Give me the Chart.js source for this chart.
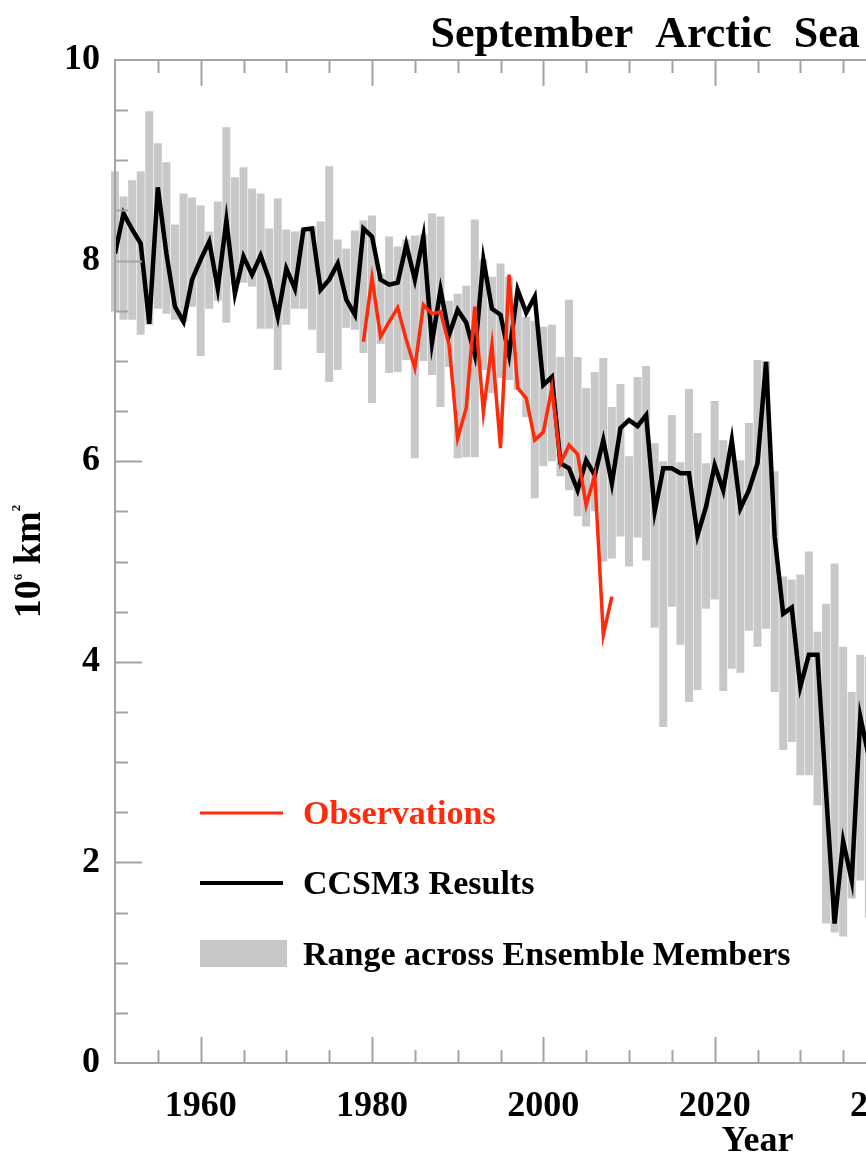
<!DOCTYPE html>
<html>
<head>
<meta charset="utf-8">
<title>September Arctic Sea Ice Extent</title>
<script src="https://cdn.jsdelivr.net/npm/chart.js@4.4.0/dist/chart.umd.min.js"></script>
<style>
    html, body { margin: 0; padding: 0; background: #ffffff; overflow: hidden; }
    #wrap { width: 866px; height: 1155px; overflow: hidden; }
    canvas { display: block; }
</style>
</head>
<body>
<div id="wrap"><canvas id="iceChart" width="1515" height="1155"></canvas></div>
<script>
// Data (10^6 km^2); the figure is cut at about 2038

// Model years (CCSM3 run and ensemble range)
const modelYears = [
    1950, 1951, 1952, 1953, 1954, 1955, 1956, 1957, 1958, 1959,
    1960, 1961, 1962, 1963, 1964, 1965, 1966, 1967, 1968, 1969,
    1970, 1971, 1972, 1973, 1974, 1975, 1976, 1977, 1978, 1979,
    1980, 1981, 1982, 1983, 1984, 1985, 1986, 1987, 1988, 1989,
    1990, 1991, 1992, 1993, 1994, 1995, 1996, 1997, 1998, 1999,
    2000, 2001, 2002, 2003, 2004, 2005, 2006, 2007, 2008, 2009,
    2010, 2011, 2012, 2013, 2014, 2015, 2016, 2017, 2018, 2019,
    2020, 2021, 2022, 2023, 2024, 2025, 2026, 2027, 2028, 2029,
    2030, 2031, 2032, 2033, 2034, 2035, 2036, 2037, 2038
];

// CCSM3 results (black line)
const ccsm3Extent = [
    8.07, 8.47, 8.31, 8.17, 7.37, 8.73, 8.07, 7.54, 7.39, 7.81,
    8.01, 8.19, 7.72, 8.40, 7.67, 8.04, 7.86, 8.05, 7.81, 7.44,
    7.92, 7.72, 8.31, 8.32, 7.71, 7.81, 7.97, 7.61, 7.46, 8.32,
    8.24, 7.81, 7.76, 7.78, 8.16, 7.81, 8.24, 7.18, 7.71, 7.26,
    7.51, 7.38, 7.06, 8.01, 7.52, 7.46, 7.06, 7.71, 7.48, 7.64,
    6.76, 6.84, 5.98, 5.93, 5.71, 6.01, 5.86, 6.21, 5.78, 6.33,
    6.41, 6.35, 6.46, 5.50, 5.93, 5.93, 5.88, 5.88, 5.26, 5.55,
    5.96, 5.71, 6.21, 5.53, 5.71, 5.98, 6.99, 5.25, 4.48, 4.54,
    3.75, 4.07, 4.07, 2.70, 1.39, 2.21, 1.82, 3.45, 3.05
];

// Range across ensemble members (grey bars): upper and lower ends
const rangeMax = [
    8.89, 8.64, 8.80, 8.89, 9.49, 9.17, 8.98, 8.36, 8.67, 8.63,
    8.55, 8.29, 8.59, 9.33, 8.83, 8.93, 8.72, 8.67, 8.32, 8.62,
    8.31, 8.29, 8.31, 8.34, 8.39, 8.94, 8.21, 8.12, 8.30, 8.40,
    8.45, 7.87, 8.24, 8.14, 8.21, 8.25, 8.26, 8.47, 8.44, 7.60,
    7.67, 7.75, 8.41, 8.01, 7.84, 7.97, 7.84, 7.61, 7.44, 7.40,
    7.34, 7.36, 7.04, 7.61, 7.04, 6.73, 6.89, 7.03, 6.54, 6.77,
    6.05, 6.84, 6.95, 6.18, 6.00, 6.46, 5.99, 6.72, 6.28, 5.98,
    6.60, 6.21, 6.03, 6.01, 6.38, 7.01, 7.00, 5.90, 4.85, 4.82,
    4.87, 5.10, 4.30, 4.58, 4.98, 4.15, 3.70, 4.07, 4.05
];
const rangeMin = [
    7.49, 7.41, 7.41, 7.26, 7.36, 7.52, 7.47, 7.41, 7.39, 7.54,
    7.05, 7.52, 7.60, 7.38, 7.76, 7.78, 7.74, 7.32, 7.32, 6.91,
    7.36, 7.52, 7.52, 7.31, 7.08, 6.79, 6.91, 7.33, 7.31, 7.08,
    6.58, 7.17, 6.88, 6.89, 7.01, 6.03, 7.00, 6.86, 6.54, 6.94,
    6.03, 6.04, 6.04, 6.91, 6.68, 6.83, 6.81, 6.71, 6.44, 5.63,
    5.95, 6.00, 5.85, 5.71, 5.45, 5.35, 5.50, 5.00, 5.03, 5.25,
    4.95, 5.24, 5.01, 4.34, 3.35, 4.55, 4.17, 3.60, 3.72, 4.53,
    4.62, 3.71, 3.93, 3.89, 4.31, 4.15, 4.33, 3.70, 3.12, 3.20,
    2.87, 2.87, 2.57, 1.39, 1.30, 1.26, 1.64, 1.82, 1.45
];

// Observations (red line)
const obsYears = [
    1979, 1980, 1981, 1982, 1983, 1984, 1985, 1986, 1987, 1988,
    1989, 1990, 1991, 1992, 1993, 1994, 1995, 1996, 1997, 1998,
    1999, 2000, 2001, 2002, 2003, 2004, 2005, 2006, 2007, 2008
];
const obsExtent = [
    7.19, 7.83, 7.24, 7.39, 7.53, 7.21, 6.93, 7.56, 7.47, 7.49,
    7.16, 6.23, 6.53, 7.54, 6.49, 7.16, 6.13, 7.86, 6.73, 6.63,
    6.21, 6.29, 6.73, 5.98, 6.16, 6.07, 5.56, 5.86, 4.27, 4.65
];

// Axis ticks
const xTickYears = [1960, 1980, 2000, 2020, 2040, 2060, 2080, 2100];
const yTickValues = [0, 2, 4, 6, 8, 10];

const SERIF = '"Liberation Serif", "Times New Roman", serif';
const OBS_RED = '#ff2a0a';
const RANGE_GREY = '#c8c8c8';
const FRAME_GREY = '#a3a3a3';

// Frame round the plot with inward ticks (major and minor)
const frameTicks = {
    id: 'frameTicks',
    afterDatasetsDraw(chart) {
        const { ctx, chartArea: a, scales: { x, y } } = chart;
        ctx.save();
        ctx.strokeStyle = FRAME_GREY;
        ctx.lineWidth = 2;
        ctx.strokeRect(a.left, a.top, a.right - a.left, a.bottom - a.top);

        ctx.beginPath();
        // x ticks every 5 years, longer ones at the labelled years
        for (let yr = x.min + 5; yr < x.max; yr += 5) {
            const px = Math.round(x.getPixelForValue(yr)) + 0.5;
            const len = xTickYears.includes(yr) ? 26 : 13;
            ctx.moveTo(px, a.bottom); ctx.lineTo(px, a.bottom - len);
            ctx.moveTo(px, a.top); ctx.lineTo(px, a.top + len);
        }
        // y ticks every 0.5
        for (let v = y.min + 0.5; v < y.max; v += 0.5) {
            const py = Math.round(y.getPixelForValue(v)) + 0.5;
            const len = yTickValues.includes(v) ? 27 : 13;
            ctx.moveTo(a.left, py); ctx.lineTo(a.left + len, py);
            ctx.moveTo(a.right, py); ctx.lineTo(a.right - len, py);
        }
        ctx.stroke();
        ctx.restore();
    }
};

// Title, rotated y label with superscripts, and the legend inside the plot
const annotations = {
    id: 'annotations',
    afterDraw(chart) {
        const { ctx, chartArea: a } = chart;
        const cx = (a.left + a.right) / 2;
        ctx.save();
        ctx.fillStyle = '#000';

        // Title
        ctx.font = 'bold 44px ' + SERIF;
        ctx.textAlign = 'center';
        ctx.textBaseline = 'alphabetic';
        ctx.fillText('September  Arctic  Sea  Ice  Extent', cx, 47);

        // y axis label: 10^6 km^2
        const parts = [
            { t: '10', size: 38, rise: 0 },
            { t: '6', size: 13, rise: 18 },
            { t: ' km', size: 38, rise: 0 },
            { t: '2', size: 13, rise: 20 }
        ];
        let total = 0;
        parts.forEach(p => {
            ctx.font = 'bold ' + p.size + 'px ' + SERIF;
            p.w = ctx.measureText(p.t).width;
            total += p.w;
        });
        ctx.save();
        ctx.translate(40, (a.top + a.bottom) / 2);
        ctx.rotate(-Math.PI / 2);
        ctx.textAlign = 'left';
        let pos = -total / 2;
        parts.forEach(p => {
            ctx.font = 'bold ' + p.size + 'px ' + SERIF;
            ctx.fillText(p.t, pos, -p.rise);
            pos += p.w;
        });
        ctx.restore();

        // Legend
        const lx = a.left + 85;
        const tx = a.left + 188;
        ctx.textAlign = 'left';
        ctx.textBaseline = 'middle';
        ctx.font = 'bold 34px ' + SERIF;

        ctx.strokeStyle = OBS_RED;
        ctx.lineWidth = 3;
        ctx.beginPath(); ctx.moveTo(lx, 813); ctx.lineTo(lx + 83, 813); ctx.stroke();
        ctx.fillStyle = OBS_RED;
        ctx.fillText('Observations', tx, 815);

        ctx.strokeStyle = '#000';
        ctx.lineWidth = 4;
        ctx.beginPath(); ctx.moveTo(lx, 883); ctx.lineTo(lx + 83, 883); ctx.stroke();
        ctx.fillStyle = '#000';
        ctx.fillText('CCSM3 Results', tx, 885);

        ctx.fillStyle = RANGE_GREY;
        ctx.fillRect(lx, 940, 87, 27);
        ctx.fillStyle = '#000';
        ctx.fillText('Range across Ensemble Members', tx, 956);

        ctx.restore();
    }
};

const ctx = document.getElementById('iceChart').getContext('2d');
window.iceChart = new Chart(ctx, {
    type: 'bar',
    data: {
        datasets: [
            {
                type: 'line',
                label: 'Observations',
                data: obsYears.map((yr, i) => ({ x: yr, y: obsExtent[i] })),
                borderColor: OBS_RED,
                borderWidth: 3.5,
                pointRadius: 0,
                tension: 0,
                order: 0
            },
            {
                type: 'line',
                label: 'CCSM3 Results',
                data: modelYears.map((yr, i) => ({ x: yr, y: ccsm3Extent[i] })),
                borderColor: '#000000',
                borderWidth: 4.5,
                pointRadius: 0,
                tension: 0,
                order: 1
            },
            {
                type: 'bar',
                label: 'Range across Ensemble Members',
                data: modelYears.map((yr, i) => ({ x: yr, y: [rangeMin[i], rangeMax[i]] })),
                backgroundColor: RANGE_GREY,
                borderWidth: 0,
                barPercentage: 0.93,
                categoryPercentage: 1.0,
                order: 2,
                clip: false
            }
        ]
    },
    options: {
        responsive: false,
        animation: false,
        devicePixelRatio: 1,
        layout: { padding: { top: 60, right: 115, left: 0, bottom: 0 } },
        plugins: {
            legend: { display: false },
            tooltip: { enabled: false },
            title: { display: false }
        },
        scales: {
            x: {
                type: 'linear',
                min: 1950,
                max: 2100,
                offset: false,
                grid: { display: false, drawTicks: false },
                border: { display: false },
                afterBuildTicks: scale => {
                    scale.ticks = xTickYears.map(v => ({ value: v }));
                },
                afterFit: scale => { scale.height = 92; },
                ticks: {
                    autoSkip: false,
                    maxRotation: 0,
                    padding: 22,
                    color: '#000',
                    font: { family: SERIF, size: 36, weight: 'bold' },
                    callback: v => String(v)
                },
                title: {
                    display: true,
                    text: 'Year',
                    color: '#000',
                    padding: { top: 0, bottom: -8 },
                    font: { family: SERIF, size: 36, weight: 'bold' }
                }
            },
            y: {
                min: 0,
                max: 10,
                grid: { display: false, drawTicks: false },
                border: { display: false },
                afterBuildTicks: scale => {
                    scale.ticks = yTickValues.map(v => ({ value: v }));
                },
                afterFit: scale => { scale.width = 115; },
                ticks: {
                    padding: 15,
                    color: '#000',
                    font: { family: SERIF, size: 36, weight: 'bold' }
                }
            }
        }
    },
    plugins: [frameTicks, annotations]
});
</script>
</body>
</html>
